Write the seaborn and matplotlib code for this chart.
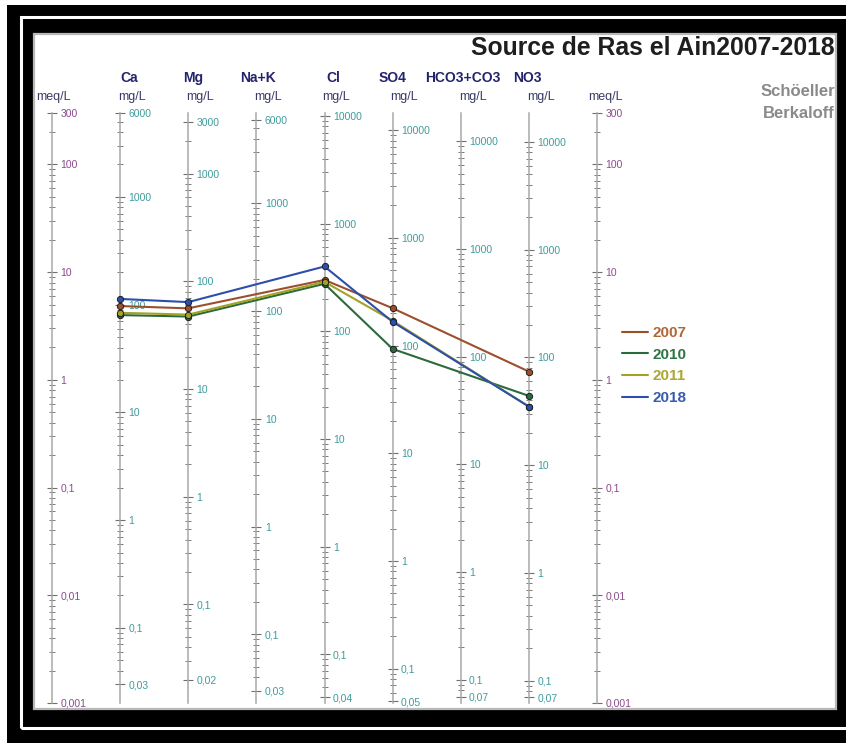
import numpy as np
import pandas as pd
import matplotlib
matplotlib.use("Agg")
import matplotlib.pyplot as plt
import matplotlib.transforms as mtransforms
from matplotlib.patches import Rectangle
from matplotlib.ticker import NullFormatter
import seaborn as sns

# ------------------------------------------------------------------ data
ions = ["Ca", "Mg", "Na+K", "Cl", "SO4", "HCO3+CO3", "NO3"]
eq_weights = [20.04, 12.15, 23.0, 35.45, 48.03, 61.02, 62.0]   # mg per meq
years = ["2007", "2010", "2011", "2018"]
# concentrations in mg/L (Na+K and HCO3+CO3 not plotted in the source)
mg_2007 = [97, 56, np.nan, 300, 222, np.nan, 74]
mg_2010 = [80, 47, np.nan, 276, 93, np.nan, 44]
mg_2011 = [84, 49, np.nan, 288, 170, np.nan, 35]
mg_2018 = [113, 64, np.nan, 400, 166, np.nan, 35]
series = [mg_2007, mg_2010, mg_2011, mg_2018]

# labelled ticks of each scale
meq_ticks = [300, 100, 10, 1, 0.1, 0.01, 0.001]
ion_ticks = [
    [6000, 1000, 100, 10, 1, 0.1, 0.03],      # Ca
    [3000, 1000, 100, 10, 1, 0.1, 0.02],      # Mg
    [6000, 1000, 100, 10, 1, 0.1, 0.03],      # Na+K
    [10000, 1000, 100, 10, 1, 0.1, 0.04],     # Cl
    [10000, 1000, 100, 10, 1, 0.1, 0.05],     # SO4
    [10000, 1000, 100, 10, 1, 0.1, 0.07],     # HCO3+CO3
    [10000, 1000, 100, 10, 1, 0.1, 0.07],     # NO3
]

palette = {"2007": "#9c4f2c", "2010": "#2b6a3b", "2011": "#a3a226", "2018": "#2c4fab"}
legend_text_colors = {"2007": "#b0683a", "2010": "#2f7448", "2011": "#aaa732", "2018": "#3a5aae"}

# ------------------------------------------------------------------ table
rows = []
for yr, vals in zip(years, series):
    for i, (ion, v, w) in enumerate(zip(ions, vals, eq_weights)):
        if not np.isnan(v):
            rows.append({"pos": i + 1, "meq": v / w, "year": yr, "ion": ion})
df = pd.DataFrame(rows)

# ------------------------------------------------------------------ style
sns.set_style("white")
plt.rcParams["font.family"] = ["Liberation Sans", "DejaVu Sans"]

W, H = 846, 743
fig = plt.figure(figsize=(W / 100, H / 100), dpi=100)
fig.patch.set_facecolor("white")


def frect(x0, y0, x1, y1, **kw):
    fig.patches.append(Rectangle((x0 / W, 1 - y1 / H), (x1 - x0) / W, (y1 - y0) / H,
                                 transform=fig.transFigure, zorder=-10, **kw))


# picture frame
frect(7, 5, 846, 743, facecolor="black", edgecolor="none")
frect(21, 17, 870, 728, facecolor="none", edgecolor="white", linewidth=2.2)
frect(34, 34, 836, 709, facecolor="white", edgecolor="#b8b8b8", linewidth=1.6)

# main axes (meq/L log scale)
ax = fig.add_axes([52 / W, 40 / H, 545 / W, 590 / H])
ax.set_facecolor("none")
ax.set_yscale("log")
ax.set_ylim(0.001, 300)
ax.set_xlim(0, 8)

sns.lineplot(data=df, x="pos", y="meq", hue="year", hue_order=years, palette=palette,
             estimator=None, sort=True, marker="o", markersize=4.5,
             markeredgecolor="#1e1e1e", markeredgewidth=0.7, linewidth=1.5, ax=ax)

for s in ax.spines.values():
    s.set_visible(False)
ax.set_xticks([])
ax.tick_params(axis="y", which="both", left=False, labelleft=False)
ax.set_xlabel("")
ax.set_ylabel("")
ax.set_xlim(0, 8)
ax.set_ylim(0.001, 300)

meq_color = "#8c4a8c"
mg_color = "#3f9c9c"


def minor_list(lo, hi):
    out = []
    for k in range(-4, 6):
        for m in range(2, 10):
            v = m * 10.0 ** k
            if lo * 1.0001 < v < hi * 0.9999:
                out.append(v)
    return out


def fmt(v):
    return f"{v:g}".replace(".", ",")


def make_axis(pos, ew, ticks, color):
    sec = ax.secondary_yaxis(pos / 8, functions=(lambda m, w=ew: np.asarray(m) * w,
                                                 lambda v, w=ew: np.asarray(v) / w))
    sec.set_alignment("right")
    sec.spines["right"].set_color("#a8a8a8")
    sec.spines["right"].set_linewidth(1.1)
    sec.set_ticks(ticks, labels=[fmt(t) for t in ticks])
    sec.set_ticks(minor_list(min(ticks), max(ticks)), minor=True)
    sec.yaxis.set_minor_formatter(NullFormatter())
    sec.tick_params(which="major", direction="inout", length=7, width=0.8,
                    color="#6f6f6f", labelsize=7.5, labelcolor=color, pad=2.5)
    sec.tick_params(which="minor", direction="inout", length=4, width=0.7,
                    color="#7a7a7a")
    sec.set_zorder(-1)
    return sec


make_axis(0, 1.0, meq_ticks, meq_color)
for i, (ew, tk) in enumerate(zip(eq_weights, ion_ticks)):
    make_axis(i + 1, ew, tk, mg_color)
make_axis(8, 1.0, meq_ticks, meq_color)

# header texts
btr = mtransforms.blended_transform_factory(ax.transData, fig.transFigure)
header_dx = [0.13, 0.07, 0.02, 0.13, 0.0, 0.03, -0.02]
for i, (ion, dx) in enumerate(zip(ions, header_dx)):
    ax.text(i + 1 + dx, 1 - 78 / H, ion, transform=btr, ha="center", va="center",
            fontsize=10, fontweight="bold", color="#23236e", clip_on=False)
    ax.text(i + 1 - 0.03, 1 - 97 / H, "mg/L", transform=btr, ha="left", va="center",
            fontsize=9, color="#3a3a68", clip_on=False)
ax.text(0.02, 1 - 97 / H, "meq/L", transform=btr, ha="center", va="center",
        fontsize=9, color="#3a3a68", clip_on=False)
ax.text(8.13, 1 - 97 / H, "meq/L", transform=btr, ha="center", va="center",
        fontsize=9, color="#3a3a68", clip_on=False)

fig.text(835 / W, 1 - 48 / H, "Source de Ras el Ain2007-2018", ha="right", va="center",
         fontsize=17.8, fontweight="bold", color="#1e1e1e")
fig.text(835 / W, 1 - 92 / H, "Schöeller", ha="right", va="center",
         fontsize=12, fontweight="bold", color="#8a8a8a")
fig.text(835 / W, 1 - 113 / H, "Berkaloff", ha="right", va="center",
         fontsize=12, fontweight="bold", color="#8a8a8a")

# legend
handles, labels = ax.get_legend_handles_labels()
leg = ax.legend(handles, labels, loc="upper left", bbox_to_anchor=(622 / W, 1 - 326 / H),
                bbox_transform=fig.transFigure, frameon=False, borderpad=0,
                borderaxespad=0, handlelength=1.7, handletextpad=0.28,
                labelspacing=0.5, prop={"weight": "bold", "size": 11})
for line in leg.get_lines():
    line.set_marker("")
    line.set_linewidth(1.5)
for txt, yr in zip(leg.get_texts(), labels):
    txt.set_color(legend_text_colors.get(yr, "#333"))

fig.savefig("out.png", dpi=100)
